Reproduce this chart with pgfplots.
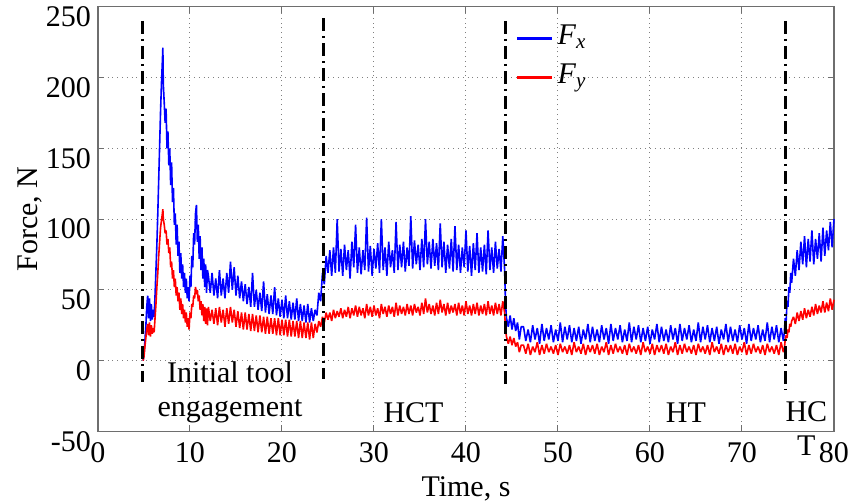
\documentclass[border=0pt]{standalone}
\usepackage{pgfplots}
\pgfplotsset{compat=1.18}
\usepackage{pgfplotstable}
\usepackage{fontspec}
\setmainfont{Liberation Serif}
\definecolor{axgray}{RGB}{110,110,110}
\pgfplotstableread{
x fx fy
4.9 0 0
5.0 4 3
5.1 14 10
5.2 24 16
5.3 38 22
5.4 46 26
5.5 30 18
5.6 44 27
5.7 28 17
5.8 40 25
5.9 29 19
6.0 36 23
6.1 31 20
6.2 46 30
6.3 64 40
6.4 82 52
6.5 104 62
6.6 128 74
6.7 152 84
6.8 176 94
6.9 196 99
7.0 212 104
7.05 221 107
7.1 195 100
7.2 182 96
7.3 168 90
7.4 178 92
7.5 150 82
7.6 162 86
7.7 138 76
7.8 150 80
7.9 124 66
8.0 140 70
8.1 112 58
8.2 122 64
8.3 96 52
8.4 104 58
8.5 82 46
8.6 96 52
8.7 74 42
8.8 84 48
8.9 62 36
9.0 76 44
9.1 58 33
9.2 68 40
9.3 52 30
9.4 62 36
9.5 48 27
9.6 58 34
9.7 44 24
9.8 52 30
9.9 42 22
10.0 60 34
10.1 52 30
10.2 74 40
10.3 66 38
10.4 90 46
10.5 82 44
10.6 104 52
10.7 110 47
10.8 84 50
10.9 96 42
11.0 72 46
11.1 88 36
11.2 64 42
11.3 80 32
11.4 58 40
11.5 72 28
11.6 52 38
11.7 68 26
11.8 48 37
11.9 64 25
12.0 60 38
12.2 48 28
12.4 62 36
12.6 46 26
12.8 58 37
13.0 44 25
13.2 64 38
13.4 46 27
13.6 58 36
13.8 44 24
14.0 62 37
14.2 48 26
14.4 70 38
14.6 50 27
14.8 66 36
15.0 46 24
15.2 60 35
15.4 44 23
15.6 56 34
15.8 42 22
16.0 54 34
16.2 40 22
16.4 52 33
16.6 38 21
16.8 62 33
17.0 38 21
17.2 50 32
17.4 36 20
17.6 48 32
17.8 35 20
18.0 56 31
18.2 34 19
18.4 47 31
18.6 33 19
18.8 46 30
19.0 33 19
19.2 52 30
19.4 32 18
19.6 44 30
19.8 31 18
20.0 43 29
20.2 30 18
20.4 46 29
20.6 30 17
20.8 42 29
21.0 29 17
21.2 41 28
21.4 29 17
21.6 44 28
21.8 28 16
22.0 40 28
22.2 28 16
22.4 39 27
22.6 27 16
22.8 40 27
23.0 27 15
23.2 37 27
23.4 28 16
23.6 36 26
23.8 32 20
24.0 48 28
24.2 42 24
24.4 62 31
24.6 54 27
24.8 74 34
25.0 62 29
25.2 78 34
25.4 60 28
25.6 80 36
25.8 62 30
26.0 100 35
26.2 63 31
26.4 79 37
26.6 60 30
26.8 82 36
27.0 64 31
27.2 78 38
27.4 58 30
27.6 84 37
27.8 66 32
28.0 96 39
28.2 62 31
28.4 80 38
28.6 61 32
28.8 78 37
29.0 64 30
29.2 101 40
29.4 63 32
29.6 81 38
29.8 60 31
30.0 79 39
30.2 65 32
30.4 83 37
30.6 62 30
30.8 100 40
31.0 64 33
31.2 80 38
31.4 60 31
31.6 84 39
31.8 66 33
32.0 78 38
32.2 62 31
32.4 98 41
32.6 64 32
32.8 82 39
33.0 66 33
33.2 84 38
33.4 63 32
33.6 80 40
33.8 67 33
34.0 102 39
34.2 65 32
34.4 85 40
34.6 68 34
34.8 82 38
35.0 64 32
35.2 86 41
35.4 66 33
35.6 100 44
35.8 68 34
36.0 84 40
36.2 65 33
36.4 86 39
36.6 67 32
36.8 83 41
37.0 64 33
37.2 97 43
37.4 66 34
37.6 84 40
37.8 62 32
38.0 82 41
38.2 65 33
38.4 86 39
38.6 63 34
38.8 95 40
39.0 64 32
39.2 82 41
39.4 62 33
39.6 80 39
39.8 66 32
40.0 92 42
40.2 63 33
40.4 81 39
40.6 60 32
40.8 83 40
41.0 64 33
41.2 90 41
41.4 62 32
41.6 80 39
41.8 63 33
42.0 82 40
42.2 61 32
42.4 92 42
42.6 64 33
42.8 80 39
43.0 62 32
43.2 84 41
43.4 65 33
43.6 79 40
43.8 63 32
44.0 88 42
44.2 64 34
44.3 40 22
44.4 30 17
44.6 24 12
44.8 32 17
45.0 22 11
45.2 30 16
45.4 21 10
45.6 27 13
45.8 15 6
46.0 24 11
46.25 24 11
46.5 14 5
46.75 22 12
47 13 4
47.25 25 10
47.5 15 6
47.75 23 13
48 12 4
48.25 26 11
48.5 14 5
48.75 23 12
49 15 6
49.25 25 10
49.5 13 5
49.75 22 11
50 14 4
50.25 27 12
50.5 13 6
50.75 24 10
51 15 5
51.25 25 11
51.5 13 4
51.75 23 13
52 14 6
52.25 24 10
52.5 12 5
52.75 22 12
53 15 4
53.25 26 11
53.5 13 6
53.75 24 11
54 14 5
54.25 22 12
54.5 13 4
54.75 25 10
55 15 6
55.25 23 13
55.5 12 4
55.75 26 11
56 14 5
56.25 23 12
56.5 15 6
56.75 25 10
57 13 5
57.25 22 11
57.5 14 4
57.75 27 12
58 13 6
58.25 24 10
58.5 15 5
58.75 25 11
59 13 4
59.25 23 13
59.5 14 6
59.75 24 10
60 12 5
60.25 22 12
60.5 15 4
60.75 26 11
61 13 6
61.25 24 11
61.5 14 5
61.75 22 12
62 13 4
62.25 25 10
62.5 15 6
62.75 23 13
63 12 4
63.25 26 11
63.5 14 5
63.75 23 12
64 15 6
64.25 25 10
64.5 13 5
64.75 22 11
65 14 4
65.25 27 12
65.5 13 6
65.75 24 10
66 15 5
66.25 25 11
66.5 13 4
66.75 23 13
67 14 6
67.25 24 10
67.5 12 5
67.75 22 12
68 15 4
68.25 26 11
68.5 13 6
68.75 24 11
69 14 5
69.25 22 12
69.5 13 4
69.75 25 10
70 15 6
70.25 23 13
70.5 12 4
70.75 26 11
71 14 5
71.25 23 12
71.5 15 6
71.75 25 10
72 13 5
72.25 22 11
72.5 14 4
72.75 27 12
73 13 6
73.25 24 10
73.5 15 5
73.75 25 11
74 13 4
74.25 23 13
74.5 14 6
74.6 20 8
74.7 30 15
74.8 28 18
74.9 42 16
75.0 38 22
75.1 52 20
75.2 48 26
75.3 62 24
75.4 55 28
75.6 72 31
75.8 60 26
76.0 78 34
76.2 64 28
76.4 84 35
76.6 68 29
76.8 88 37
77.0 66 30
77.2 86 36
77.4 70 31
77.6 92 38
77.8 68 32
78.0 86 40
78.2 72 33
78.4 90 39
78.6 70 34
78.8 94 42
79.0 74 34
79.2 92 41
79.4 78 35
79.6 98 44
79.8 80 36
80.0 100 43
}\forcedata
\begin{document}
\begin{tikzpicture}
\begin{axis}[
  at={(0,0)}, anchor=south west,
  scale only axis, width=368pt, height=212.4pt,
  xmin=0, xmax=80, ymin=-50, ymax=250,
  xtick={0,10,...,80}, ytick={-50,0,...,250},
  grid=major, grid style={dotted, gray, line width=0.5pt},
  axis line style={axgray, line width=0.6pt},
  tick style={axgray, line width=0.5pt},
  tick align=inside, major tick length=3pt,
  /pgf/number format/assume math mode=true,
  tick label style={font=\fontsize{15}{18}\selectfont, black},
  yticklabel style={yshift=-5pt},
  xticklabel style={yshift=-2pt},
  label style={font=\fontsize{15}{18}\selectfont},
  xlabel={Time, s}, ylabel={Force, N},
  xlabel style={at={(axis description cs:0.5,0)}, anchor=center, yshift=-28.75pt},
  ylabel style={at={(axis description cs:-0.0924,0.5)}, anchor=center},
  legend style={at={(axis cs:45.4,240.6)}, anchor=north west, draw=none, fill=none,
    inner sep=0pt, row sep=1.5pt, font=\fontsize{15}{18}\selectfont,
    nodes={text height=10pt, text depth=4pt, inner sep=2pt}},
  legend cell align=left,
  legend image code/.code={\draw[#1, line width=1.3pt] (0pt,0pt) -- (17.5pt,0pt);},
  clip=false,
]
\addplot[blue, line width=0.8pt, line join=bevel] table[x=x, y=fx] {\forcedata};
\addlegendentry{\textit{F}\textsubscript{\textit{x}}}
\addplot[red, line width=0.8pt, line join=bevel] table[x=x, y=fy] {\forcedata};
\addlegendentry{\textit{F}\textsubscript{\textit{y}}}
\addplot[black, line width=1.5pt, dash pattern=on 6.5pt off 2.5pt on 1pt off 2.5pt, forget plot] coordinates {(4.8,240) (4.8,-15)};
\addplot[black, line width=1.5pt, dash pattern=on 6.5pt off 2.5pt on 1pt off 2.5pt, forget plot] coordinates {(24.5,242) (24.5,-13)};
\addplot[black, line width=1.5pt, dash pattern=on 6.5pt off 2.5pt on 1pt off 2.5pt, forget plot] coordinates {(44.25,240) (44.25,-18)};
\addplot[black, line width=1.5pt, dash pattern=on 6.5pt off 2.5pt on 1pt off 2.5pt, forget plot] coordinates {(74.75,240) (74.75,-20)};
\node[align=center, font=\fontsize{15}{17}\selectfont, inner sep=0pt] at (axis cs:14.35,-22) {Initial tool\\engagement};
\node[font=\fontsize{15}{17}\selectfont, inner sep=0pt] at (axis cs:34.3,-36.5) {HCT};
\node[font=\fontsize{15}{17}\selectfont, inner sep=0pt] at (axis cs:63.9,-36.5) {HT};
\node[align=center, font=\fontsize{15}{17}\selectfont, inner sep=0pt] at (axis cs:77,-47.9) {HC\\T};
\end{axis}
\pgfresetboundingbox
\path[use as bounding box] (-49pt,-35.75pt) rectangle (382.5pt,215.75pt);
\end{tikzpicture}
\end{document}
